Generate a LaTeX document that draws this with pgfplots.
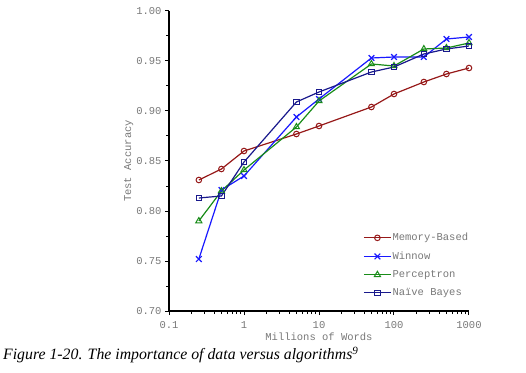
\documentclass[border=0pt]{standalone}
\usepackage{pgfplots}
\pgfplotsset{compat=1.18}
\usepackage{fontspec}
\setmainfont{Liberation Serif}
\newfontfamily\mono{Liberation Mono}
\definecolor{memred}{RGB}{150,25,25}
\definecolor{winblue}{RGB}{25,25,255}
\definecolor{pergreen}{RGB}{25,140,25}
\definecolor{nbnavy}{RGB}{25,25,140}
\definecolor{txtgray}{RGB}{120,120,120}
\begin{document}
\begin{tikzpicture}[x=1pt,y=1pt]
\useasboundingbox (0,0) rectangle (526,372);
\begin{axis}[
  at={(169pt,61pt)}, anchor=south west,
  scale only axis, width=300pt, height=300pt,
  xmode=log, xmin=0.1, xmax=1000,
  ymin=0.70, ymax=1.00,
  axis x line*=bottom, axis y line*=left,
  axis line style={black, line width=1.3pt, -},
  xtick={0.1,1,10,100,1000},
  xticklabels={0.1,1,10,100,1000},
  minor xtick={},
  ytick={0.70,0.75,0.80,0.85,0.90,0.95,1.00},
  yticklabels={0.70,0.75,0.80,0.85,0.90,0.95,1.00},
  minor ytick={0.725,0.775,0.825,0.875,0.925,0.975},
  tick align=outside,
  major tick length=4pt, minor tick length=3pt,
  tick style={black, line width=1pt},
  ticklabel style={font=\mono\fontsize{10.5}{12}\selectfont, text=txtgray},
  xticklabel style={yshift=-3pt},
  xlabel={Millions of Words},
  ylabel={Test Accuracy},
  label style={font=\mono\fontsize{10.5}{12}\selectfont, text=txtgray},
  xlabel style={yshift=3pt},
  ylabel style={yshift=-4pt},
  legend style={draw=none, fill=none, at={(0.647,0.263)}, anchor=north west,
    font=\mono\fontsize{10.5}{12}\selectfont, text=txtgray, row sep=7.5pt,
    inner sep=0pt, nodes={inner sep=1pt}},
  legend cell align=left,
  legend image code/.code={\draw[mark repeat=2,mark phase=2,#1] plot coordinates {(0pt,0pt) (13.5pt,0pt) (27pt,0pt)};},
  every axis plot/.append style={line width=1.2pt},
]
\addplot[color=memred, mark=o, mark size=2.8pt, mark options={line width=1pt}] coordinates {
(0.25,0.831) (0.5,0.842) (1,0.860) (5,0.877) (10,0.885) (50,0.904) (100,0.917) (250,0.929) (500,0.937) (1000,0.943)};
\addlegendentry{Memory-Based}
\addplot[color=winblue, mark=x, mark size=4pt, mark options={line width=1.2pt}] coordinates {
(0.25,0.752) (0.5,0.821) (1,0.835) (5,0.894) (10,0.912) (50,0.953) (100,0.954) (250,0.954) (500,0.972) (1000,0.974)};
\addlegendentry{Winnow}
\addplot[color=pergreen, mark=triangle, mark size=3.5pt, mark options={line width=1pt}] coordinates {
(0.25,0.790) (0.5,0.820) (1,0.841) (5,0.884) (10,0.910) (50,0.947) (100,0.945) (250,0.962) (500,0.963) (1000,0.968)};
\addlegendentry{Perceptron}
\addplot[color=nbnavy, mark=square, mark size=2.6pt, mark options={line width=1pt}] coordinates {
(0.25,0.813) (0.5,0.815) (1,0.849) (5,0.909) (10,0.919) (50,0.939) (100,0.944) (250,0.957) (500,0.962) (1000,0.965)};
\addlegendentry{Na\"ive Bayes}
\end{axis}
\node[anchor=west, inner sep=0pt, font=\itshape\fontsize{15.8}{18}\selectfont] at (3,17) {Figure 1-20. The importance of data versus algorithms\textsuperscript{9}};
\end{tikzpicture}
\end{document}
